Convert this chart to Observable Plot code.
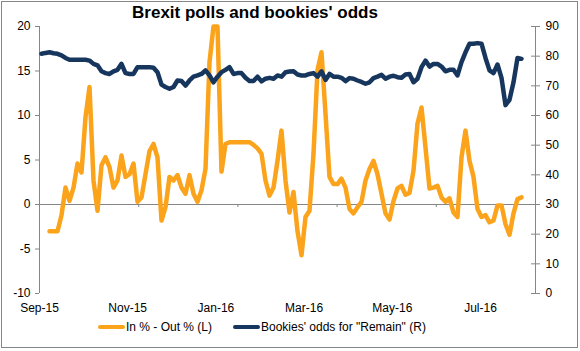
<!DOCTYPE html>
<html>
<head>
<meta charset="utf-8">
<script src="https://cdn.jsdelivr.net/npm/d3@7"></script>
<script src="https://cdn.jsdelivr.net/npm/@observablehq/plot@0.6"></script>
<style>
html, body { margin: 0; padding: 0; background: #fff; }
#wrap { position: relative; width: 580px; height: 351px; overflow: hidden; font-family: "Liberation Sans", Arial, sans-serif; color: #000; }
#border { position: absolute; left: 1px; top: 1px; width: 577px; height: 347px; box-sizing: border-box; border: 1px solid #868686; }
#title { position: absolute; left: 0; top: 3px; width: 510px; text-align: center; font-size: 17px; font-weight: bold; line-height: 20px; }
#chart { position: absolute; left: 0; top: 0; }
.sw { position: absolute; height: 4px; border-radius: 2px; }
.lt { position: absolute; font-size: 12px; line-height: 14px; white-space: nowrap; }
</style>
</head>
<body>
<div id="wrap">
  <div id="chart"></div>
  <div id="border"></div>
  <div id="title">Brexit polls and bookies' odds</div>
  <div class="sw" style="left:98px; top:325px; width:27px; background:#FAA31B"></div>
  <div class="lt" style="left:126px; top:320px">In % - Out % (L)</div>
  <div class="sw" style="left:233px; top:325px; width:27px; background:#17365D"></div>
  <div class="lt" style="left:261px; top:320px">Bookies' odds for "Remain" (R)</div>
</div>
<script>
// Category axis (Excel-style): one slot per observation
const nSlots = 124;
const xLabels = ["Sep-15", "Nov-15", "Jan-16", "Mar-16", "May-16", "Jul-16"];
const xLabelPos = [-0.5, 21.55, 43.6, 65.65, 87.7, 109.75];
const xMinorTicks = [24.3, 49.1, 73.9, 98.7];
const leftTicks = [-10, -5, 0, 5, 10, 15, 20];
const rightTicks = [0, 10, 20, 30, 40, 50, 60, 70, 80, 90];

// In % - Out % (left axis)
const pollGap = [
  null, null, -3, -3, -3, -1.2, 1.9, 0.4, 1.9, 4.6,
  3.6, 9.8, 13.2, 2.7, -0.7, 4.4, 5.3, 4.2, 1.9, 2.7,
  5.5, 3.1, 3.4, 4.6, 0.3, 0.8, 3.4, 6.0, 6.8, 5.3,
  -1.8, -0.3, 3.1, 2.7, 3.3, 1.9, 1.2, 3.3, 1.2, 0.3,
  1.6, 4.0, 16, 20, 20, 3.7, 6.8, 7, 7, 7,
  7, 7, 7, 6.7, 6.3, 5.7, 2.7, 1.0, 1.9, 4.9,
  8.3, 2.7, -0.9, 1.4, -3.0, -5.7, -1.4, -0.7, 5.7, 15.1,
  17.1, 10.2, 3.1, 2.3, 2.3, 2.9, 1.9, -0.5, -1.0, -0.3,
  0.3, 2.7, 4.0, 4.9, 3.4, 1.2, -1.0, -1.7, 0.4, 1.8,
  2.1, 1.1, 1.3, 3.8, 9.1, 10.9, 6.4, 1.8, 1.9, 2.1,
  0.8, 0.3, 0.7, -0.9, -1.4, 5.3, 8.3, 4.9, 3.1, -0.5,
  -1.4, -1.2, -2.0, -1.8, -0.1, -0.1, -2.2, -3.4, -1.0, 0.6,
  0.8
];

// Bookies' odds for "Remain" (right axis)
const remainOdds = [
  80.8, 81.1, 81.3, 81, 80.8, 80.3, 79.4, 78.8, 78.8, 78.8,
  78.8, 78.8, 78.5, 77.4, 76.9, 74.9, 74.3, 74, 74.9, 75.4,
  77.4, 74.3, 74, 74, 76.3, 76.3, 76.3, 76.3, 76.1, 74.6,
  70.4, 69.6, 69, 69.6, 71.8, 71.6, 70.1, 71.8, 73.1, 73.5,
  74, 75.2, 73.5, 71.2, 73.1, 74.6, 75.4, 76.3, 74, 74.3,
  74.3, 72.7, 71.6, 71.6, 73.1, 71.5, 72.4, 72.7, 72.4, 73.5,
  73.1, 74.6, 74.8, 74.9, 73.8, 73.5, 73.5, 74, 74.3, 73.1,
  74.9, 72, 74, 73.1, 73.1, 72.7, 71.6, 72.6, 72.4, 71.8,
  71.3, 70.7, 71.2, 72.6, 73.1, 73.7, 72.4, 73.1, 73.4, 72.9,
  72.7, 73.8, 74, 71.2, 72.4, 76.3, 78.5, 76.5, 77.4, 77.4,
  76.5, 74.9, 75.4, 75.4, 73.5, 78, 81.3, 84.2, 84.2, 84.4,
  84.2, 79.4, 75.2, 74.3, 77.2, 72.7, 63.5, 65.3, 71.2, 79.4,
  79.1
];

const orange = "#FAA31B";
const navy = "#17365D";
const axisGray = "#868686";
// right axis value -> left axis units
const toLeft = r => r / 3 - 10;

const chart = Plot.plot({
  width: 580,
  height: 351,
  marginLeft: 39,
  marginRight: 45,
  marginTop: 26,
  marginBottom: 58,
  x: { domain: [-0.5, nSlots - 0.5], label: null },
  y: { domain: [-10, 20], label: null },
  style: { fontFamily: '"Liberation Sans", Arial, sans-serif', fontSize: "12px", color: "#000", background: "transparent", overflow: "visible" },
  marks: [
    Plot.ruleY([0], { stroke: axisGray }),
    Plot.ruleX(xMinorTicks, { x: d => d, y1: 0, y2: 0, insetBottom: -3, stroke: axisGray }),
    Plot.ruleX([-0.5, nSlots - 0.5], { stroke: axisGray }),
    Plot.axisY({ anchor: "left", ticks: leftTicks, tickSize: 4, tickPadding: 5, stroke: axisGray, tickFormat: d => String(d) }),
    Plot.axisY({ anchor: "right", ticks: rightTicks.map(toLeft), tickSize: 9, dx: -5, stroke: axisGray, tickFormat: () => "" }),
    Plot.axisY({ anchor: "right", ticks: rightTicks.map(toLeft), tickSize: 0, tickPadding: 10, tickFormat: d => String(Math.round((d + 10) * 3)) }),
    Plot.axisX({ anchor: "bottom", ticks: xLabelPos, tickSize: 0, tickPadding: 10, tickFormat: d => xLabels[xLabelPos.indexOf(d)] }),
    Plot.line(pollGap, { x: (d, i) => i, y: d => d, stroke: orange, strokeWidth: 4.5, strokeLinejoin: "round", strokeLinecap: "round" }),
    Plot.line(remainOdds, { x: (d, i) => i, y: d => toLeft(d), stroke: navy, strokeWidth: 4.5, strokeLinejoin: "round", strokeLinecap: "round" })
  ]
});
document.getElementById("chart").appendChild(chart);
</script>
</body>
</html>
